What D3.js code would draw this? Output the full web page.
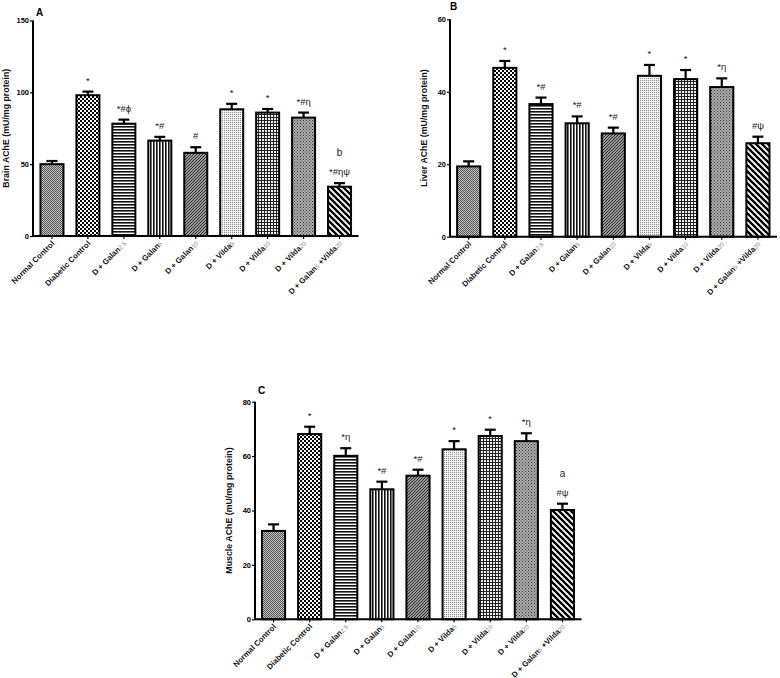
<!DOCTYPE html>
<html><head><meta charset="utf-8">
<script src="https://cdn.jsdelivr.net/npm/d3@7/dist/d3.min.js"></script>
<style>
html,body{margin:0;padding:0;background:#fff;}
svg{display:block;font-family:"Liberation Sans",Arial,sans-serif;}
</style></head>
<body>
<svg id="chart" width="780" height="678"></svg>
<script>
// ---------- data ----------
const categories = ["Normal Control","Diabetic Control","D + Galan2.5","D + Galan5","D + Galan10","D + Vilda5","D + Vilda10","D + Vilda20","D + Galan5 +Vilda20"];
// label segments: [text, isSubscript]
const categoryLabelParts = [
  [["Normal Control",0]],
  [["Diabetic Control",0]],
  [["D + Galan",0],["2.5",1]],
  [["D + Galan",0],["5",1]],
  [["D + Galan",0],["10",1]],
  [["D + Vilda",0],["5",1]],
  [["D + Vilda",0],["10",1]],
  [["D + Vilda",0],["20",1]],
  [["D + Galan",0],["5",1],[" +Vilda",0],["20",1]]
];
const brainMean  = [50.0, 98.0, 78.2, 66.4, 57.9, 88.2, 85.9, 82.4, 34.3];
const brainErr   = [2.2, 2.5, 2.8, 2.6, 3.9, 3.8, 2.5, 3.5, 2.5];
const brainSig   = ["", "*", "*#\u03D5", "*#", "#", "*", "*", "*#\u03B7", "*#\u03B7\u03C8"];
const brainLetter= ["", "", "", "", "", "", "", "", "b"];
const brainTicks = [0, 50, 100, 150];

const liverMean  = [19.4, 46.6, 36.6, 31.3, 28.5, 44.4, 43.5, 41.3, 25.8];
const liverErr   = [1.4, 1.9, 1.8, 1.9, 1.6, 3.0, 2.5, 2.4, 1.8];
const liverSig   = ["", "*", "*#", "*#", "*#", "*", "*", "*\u03B7", "#\u03C8"];
const liverLetter= ["", "", "", "", "", "", "", "", ""];
const liverTicks = [0, 20, 40, 60];

const muscleMean = [32.5, 68.1, 60.1, 47.8, 52.8, 62.5, 67.4, 65.5, 40.2];
const muscleErr  = [2.4, 2.7, 2.8, 2.8, 2.2, 3.0, 2.3, 2.9, 2.3];
const muscleSig  = ["", "*", "*\u03B7", "*#", "*#", "*", "*", "*\u03B7", "#\u03C8"];
const muscleLetter=["", "", "", "", "", "", "", "", "a"];
const muscleTicks= [0, 20, 40, 60, 80];

// ---------- patterns ----------
const svg = d3.select("#chart");
const defs = svg.append("defs");
function pat(id, w, h, draw){
  const p = defs.append("pattern").attr("id", id).attr("patternUnits","userSpaceOnUse").attr("width", w).attr("height", h);
  draw(p);
}
pat("p0", 2, 2, p => { p.append("rect").attr("width",2).attr("height",2).attr("fill","#c4c4c4");
  p.append("rect").attr("width",1).attr("height",1).attr("fill","#555");
  p.append("rect").attr("x",1).attr("y",1).attr("width",1).attr("height",1).attr("fill","#555"); });
pat("p1", 4, 4, p => { p.append("rect").attr("width",4).attr("height",4).attr("fill","#fff");
  p.append("rect").attr("width",2).attr("height",2).attr("fill","#000");
  p.append("rect").attr("x",2).attr("y",2).attr("width",2).attr("height",2).attr("fill","#000"); });
pat("p2", 4, 3, p => { p.append("rect").attr("width",4).attr("height",3).attr("fill","#fff");
  p.append("rect").attr("width",4).attr("height",1.6).attr("fill","#111"); });
pat("p3", 3, 4, p => { p.append("rect").attr("width",3).attr("height",4).attr("fill","#fff");
  p.append("rect").attr("width",1.6).attr("height",4).attr("fill","#111"); });
pat("p4", 3, 3, p => { p.append("rect").attr("width",3).attr("height",3).attr("fill","#9a9a9a");
  p.append("path").attr("d","M-1,1 L1,-1 M0,3 L3,0 M2,4 L4,2").attr("stroke","#2a2a2a").attr("stroke-width",1); });
pat("p5", 2, 2, p => { p.append("rect").attr("width",2).attr("height",2).attr("fill","#f2f2f2");
  p.append("rect").attr("width",1).attr("height",1).attr("fill","#8c8c8c"); });
pat("p6", 3, 3, p => { p.append("rect").attr("width",3).attr("height",3).attr("fill","#222");
  p.append("rect").attr("x",1).attr("y",1).attr("width",2).attr("height",2).attr("fill","#eee"); });
pat("p7", 3, 3, p => { p.append("rect").attr("width",3).attr("height",3).attr("fill","#b0b0b0");
  p.append("rect").attr("width",1).attr("height",1).attr("fill","#333");
  p.append("rect").attr("x",1.5).attr("y",1.5).attr("width",1).attr("height",1).attr("fill","#333"); });
pat("p8", 6, 6, p => { p.append("rect").attr("width",6).attr("height",6).attr("fill","#fff");
  p.append("path").attr("d","M-1,-1 L7,7 M-4,2 L4,10 M2,-4 L10,4").attr("stroke","#000").attr("stroke-width",2.3); });
const patternIds = ["p0","p1","p2","p3","p4","p5","p6","p7","p8"];

// ---------- panels ----------
const panels = [
  {letter:"A", means:brainMean, errs:brainErr, sig:brainSig, extra:brainLetter, ticks:brainTicks, yMax:150,
   title:"Brain AChE (mU/mg protein)", ax:33, ay:236, top:20.5, xr:[34,357.5], titleX:9, letterXY:[36,16]},
  {letter:"B", means:liverMean, errs:liverErr, sig:liverSig, extra:liverLetter, ticks:liverTicks, yMax:60,
   title:"Liver AChE (mU/mg protein)", ax:450, ay:236.7, top:19.3, xr:[450.6,776], titleX:427, letterXY:[450,10]},
  {letter:"C", means:muscleMean, errs:muscleErr, sig:muscleSig, extra:muscleLetter, ticks:muscleTicks, yMax:80,
   title:"Muscle AChE (mU/mg protein)", ax:255, ay:619.3, top:401.7, xr:[255.5,580.5], titleX:232, letterXY:[258,394]}
];

panels.forEach(P => {
  const g = svg.append("g");
  const x = d3.scaleBand().domain(categories).range(P.xr).paddingInner(0.36).paddingOuter(0.18);
  const y = d3.scaleLinear().domain([0, P.yMax]).range([P.ay, P.top]);

  // bars
  g.selectAll("rect.bar").data(categories).enter().append("rect")
    .attr("x", d => x(d)).attr("width", x.bandwidth())
    .attr("y", (d,i) => y(P.means[i])).attr("height", (d,i) => P.ay - y(P.means[i]))
    .attr("fill", (d,i) => `url(#${patternIds[i]})`)
    .attr("stroke","#000").attr("stroke-width",2);

  // error bars
  const cap = 5.5;
  categories.forEach((c,i) => {
    const cx = x(c) + x.bandwidth()/2;
    const y0 = y(P.means[i]), y1 = y(P.means[i] + P.errs[i]);
    g.append("line").attr("x1",cx).attr("x2",cx).attr("y1",y0).attr("y2",y1).attr("stroke","#000").attr("stroke-width",2.2);
    g.append("line").attr("x1",cx-cap).attr("x2",cx+cap).attr("y1",y1).attr("y2",y1).attr("stroke","#000").attr("stroke-width",2.2);
    if (P.sig[i]) {
      g.append("text").attr("x",cx).attr("y",y1-8).attr("text-anchor","middle")
        .attr("font-size",9.5).attr("fill","#222").text(P.sig[i]);
    }
    if (P.extra[i]) {
      g.append("text").attr("x",cx).attr("y",y1-27).attr("text-anchor","middle")
        .attr("font-size",10).attr("fill","#222").text(P.extra[i]);
    }
  });

  // y axis
  const yAxis = d3.axisLeft(y).tickValues(P.ticks).tickSize(3).tickPadding(1).tickFormat(d3.format("d"));
  const ya = g.append("g").attr("transform",`translate(${P.ax},0)`).call(yAxis);
  ya.select(".domain").attr("stroke-width",2).attr("d",`M0,${P.ay}V${P.top}`);
  ya.selectAll(".tick line").attr("stroke-width",1.2);
  ya.selectAll("text").attr("font-size",7.5).attr("font-weight","bold").attr("font-family","Liberation Sans, Arial, sans-serif");

  // x axis
  const xAxis = d3.axisBottom(x).tickSize(3).tickFormat("");
  const xa = g.append("g").attr("transform",`translate(0,${P.ay})`).call(xAxis);
  xa.select(".domain").attr("stroke-width",2).attr("d",`M${P.ax},0H${P.xr[1]+1}`);
  xa.selectAll(".tick line").attr("stroke-width",1.2);

  // x labels
  categories.forEach((c,i) => {
    const cx = x(c) + x.bandwidth()/2;
    const t = g.append("text").attr("transform",`translate(${cx+3},${P.ay+8}) rotate(-45)`)
      .attr("text-anchor","end").attr("font-size",7.8).attr("font-weight","bold").attr("fill","#111");
    categoryLabelParts[i].forEach(([s,sub]) => {
      const ts = t.append("tspan").text(s);
      if (sub) ts.attr("font-size",6.2).attr("font-weight","normal").attr("fill","#8a8a8a");
    });
  });

  // y title
  g.append("text").attr("transform",`translate(${P.titleX},${(P.ay+P.top)/2}) rotate(-90)`)
    .attr("text-anchor","middle").attr("font-size",8.8).attr("font-weight","bold").attr("fill","#111").text(P.title);

  // panel letter
  g.append("text").attr("x",P.letterXY[0]).attr("y",P.letterXY[1]).attr("font-size",10).attr("font-weight","bold").text(P.letter);
});
</script>
</body></html>
